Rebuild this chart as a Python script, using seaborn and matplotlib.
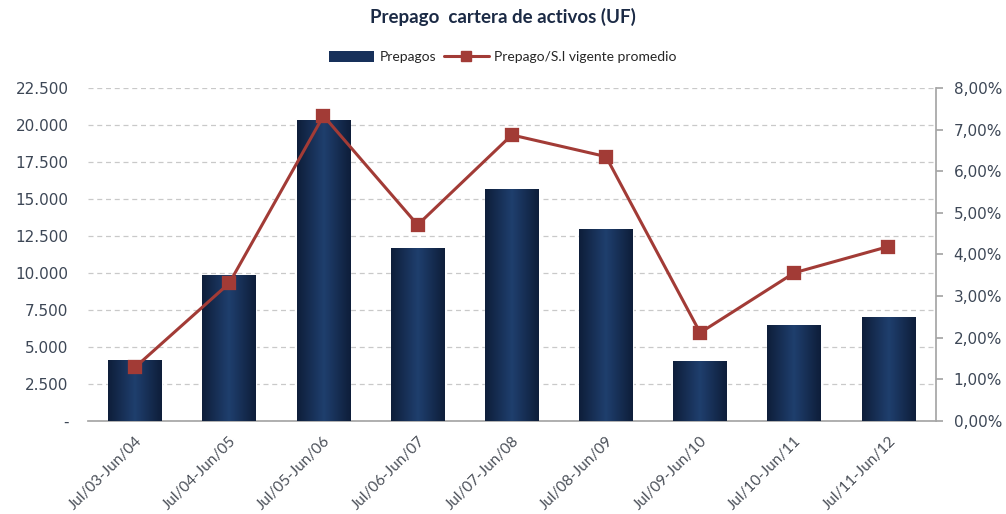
import numpy as np
import pandas as pd
import matplotlib
matplotlib.use("Agg")
import matplotlib.pyplot as plt
from matplotlib.colors import LinearSegmentedColormap
from matplotlib.lines import Line2D
from matplotlib.patches import Patch
from matplotlib.ticker import FuncFormatter, MultipleLocator
import seaborn as sns

# data
periods = ["Jul/03-Jun/04", "Jul/04-Jun/05", "Jul/05-Jun/06", "Jul/06-Jun/07",
           "Jul/07-Jun/08", "Jul/08-Jun/09", "Jul/09-Jun/10", "Jul/10-Jun/11",
           "Jul/11-Jun/12"]
prepagos = [4100, 9850, 20300, 11700, 15700, 13000, 4050, 6450, 7050]
ratio_pct = [1.29, 3.31, 7.33, 4.71, 6.87, 6.35, 2.12, 3.56, 4.19]

df = pd.DataFrame({"periodo": periods, "prepagos": prepagos, "ratio": ratio_pct})

navy = "#17305a"
red = "#a23b36"
txt = "#3d4756"

sns.set_theme(style="white")
plt.rcParams["font.family"] = ["DejaVu Sans"]

fig = plt.figure(figsize=(10.06, 5.14), dpi=100)
ax = fig.add_axes([0.0875, 0.181, 0.8425, 0.648])

sns.barplot(data=df, x="periodo", y="prepagos", color=navy, width=0.57,
            saturation=1, ax=ax, zorder=2)

# gradient on each bar (dark edges, lighter middle)
cmap = LinearSegmentedColormap.from_list("bar", ["#0e1e3a", "#1f3f6e", "#0e1e3a"])
grad = np.linspace(0, 1, 64).reshape(1, -1)
for p in ax.patches:
    x0, y0 = p.get_x(), p.get_y()
    w, h = p.get_width(), p.get_height()
    im = ax.imshow(grad, cmap=cmap, aspect="auto", extent=[x0, x0 + w, y0, y0 + h],
                   zorder=3, interpolation="bicubic")
    im.set_clip_path(p)

ax.set_xlim(-0.5, len(periods) - 0.5)
ax.set_ylim(0, 22500)
ax.yaxis.set_major_locator(MultipleLocator(2500))
ax.yaxis.set_major_formatter(FuncFormatter(
    lambda v, _: "-" if v == 0 else f"{v:,.0f}".replace(",", ".")))
ax.grid(axis="y", color="#c9c9c9", linestyle=(0, (4, 3)), linewidth=0.9, zorder=0)
ax.set_axisbelow(True)
ax.set_xlabel("")
ax.set_ylabel("")
for s in ["left", "top", "right"]:
    ax.spines[s].set_visible(False)
ax.spines["bottom"].set_color("#a6a6a6")
ax.tick_params(axis="y", length=0, labelsize=11, labelcolor=txt, pad=14)
ax.tick_params(axis="x", length=0, pad=9)
ax.set_xticks(range(len(periods)))
ax.set_xticklabels(periods, rotation=45, ha="right", va="top",
                   rotation_mode="anchor", fontsize=11, color="#4a4f58",
                   family=["Lato", "DejaVu Sans"])

ax2 = ax.twinx()
sns.pointplot(data=df, x="periodo", y="ratio", color=red, markers="s",
              markersize=8, linewidth=2.2, ax=ax2, zorder=5)
ax2.set_xlim(-0.5, len(periods) - 0.5)
ax2.set_ylim(0, 8)
ax2.yaxis.set_major_locator(MultipleLocator(1))
ax2.yaxis.set_major_formatter(FuncFormatter(lambda v, _: f"{v:.2f}%".replace(".", ",")))
ax2.set_ylabel("")
ax2.set_xlabel("")
for s in ["left", "top", "bottom"]:
    ax2.spines[s].set_visible(False)
ax2.spines["right"].set_color("#a6a6a6")
ax2.tick_params(axis="y", direction="out", length=5, color="#a6a6a6",
                labelsize=11, labelcolor=txt, pad=8)

fig.suptitle("Prepago  cartera de activos (UF)", y=0.985, fontsize=13.5,
             fontweight="bold", color="#1b2a45", family=["Lato", "DejaVu Sans"])

handles = [Patch(facecolor=navy, edgecolor="none"),
           Line2D([0], [0], color=red, lw=2.2, marker="s", markersize=7)]
fig.legend(handles, ["Prepagos", "Prepago/S.I vigente promedio"], loc="center",
           bbox_to_anchor=(0.5, 0.889), ncol=2, frameon=False, fontsize=10,
           handlelength=3.2, handleheight=0.8, columnspacing=0.6, handletextpad=0.4,
           prop={"family": ["Lato", "DejaVu Sans"], "size": 10})

fig.savefig("out.png", dpi=100)
